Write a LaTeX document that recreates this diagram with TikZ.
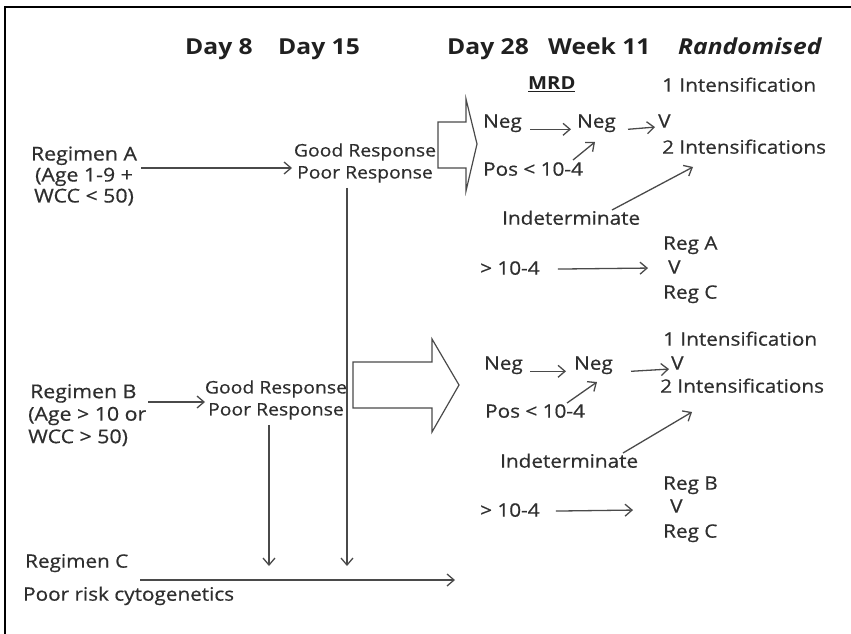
\documentclass[tikz,border=0pt]{standalone}
\usepackage{fontspec}
\setmainfont{Open Sans}[FakeStretch=1.12, UprightFeatures={FakeBold=0.6}]
\usetikzlibrary{arrows.meta}
\definecolor{txt}{HTML}{2E2E2E}
\definecolor{hdc}{HTML}{202020}
\definecolor{lnc}{HTML}{4A4A4A}
\begin{document}
\begin{tikzpicture}[x=1pt,y=-1pt,
  lbl/.style={font=\fontsize{18.5}{21}\selectfont, text=txt, inner sep=0pt, anchor=mid west},
  resp/.style={font=\fontsize{17.3}{22}\selectfont, text=txt, inner sep=0pt, anchor=center, align=center},
  hd/.style={font=\fontsize{22}{26}\selectfont\bfseries, text=hdc, inner sep=0pt, anchor=mid west},
  arr/.style={draw=lnc, line width=1.3pt, -{Straight Barb[length=7pt,width=12pt,line width=1.3pt]}},
  blockarrow/.style={draw=lnc, line width=1.2pt, fill=white, line join=miter}]
\useasboundingbox (0,0) rectangle (851,634);
\draw[black, line width=1.3pt] (5,634) -- (5,7) -- (851,7);

% headings
\node[hd] (d8) at (185,52) {Day 8};
\node[hd] (d15) at (278,52) {Day 15};
\node[hd] (d28) at (447,52) {Day 28};
\node[hd] (w11) at (548,52) {Week 11};
\node[hd, font=\fontsize{22}{26}\selectfont\bfseries\itshape] (rnd) at (678,52) {Randomised};

% ===== upper part: Regimen A =====
\node[lbl, anchor=center, align=center, font=\fontsize{19}{21}\selectfont] (regA) at (84,176) {Regimen A\\(Age 1-9 +\\WCC < 50)};
\node[resp] (respA) at (365,163) {Good Response\\Poor Response};
\coordinate (aA) at (292,168);
\draw[arr] (regA.east |- aA) ++(4,0) -- (aA);
\draw[blockarrow] (438,122) -- (466,122) -- (466,99) -- (477,144) -- (466,191) -- (466,168) -- (438,168) -- cycle;

\node[font=\fontsize{18}{21}\selectfont\bfseries, text=hdc, inner sep=0pt, anchor=mid west] (mrdA) at (528,87) {\underline{MRD}};
\node[lbl] (oneA) at (662,89) {1 Intensification};
\node[lbl] (negA1) at (483,125) {Neg};
\node[lbl] (negA2) at (577,125) {Neg};
\node[lbl] (vA) at (658,125) {V};
\node[lbl] (twoA) at (662,151) {2 Intensifications};
\node[lbl] (posA) at (483,173) {Pos < 10-4};
\node[lbl] (indA) at (502,222) {Indeterminate};
\node[lbl] (gtA) at (480,272) {> 10-4};
\node[lbl] (regAa) at (663,247) {Reg A};
\node[lbl] (vAr) at (668,271) {V};
\node[lbl] (regCa) at (663,296) {Reg C};

\draw[arr] ([xshift=8pt,yshift=-6pt]negA1.east) -- ([xshift=-6pt,yshift=-6pt]negA2.west);
\draw[arr] ([xshift=12pt,yshift=-6pt]negA2.east) -- ([xshift=-3pt,yshift=-6pt]vA.west);
\draw[arr] (573,160) -- (595,142);
\draw[arr] (612,210) -- (693,167);
\draw[arr] ([xshift=18pt,yshift=-1pt]gtA.east) -- ([xshift=-20pt]vAr.west |- gtA.east);

% ===== lower part: Regimen B =====
\node[lbl, anchor=north west, align=left, font=\fontsize{19}{22.5}\selectfont] (regB) at (28,384) {\hspace*{2pt}Regimen B\\(Age > 10 or\\WCC > 50)};
\node[resp] (respB) at (276,400) {Good Response\\Poor Response};
\coordinate (aB) at (205,402);
\draw[arr] (148,402) -- (aB);
\draw[blockarrow] (353,362) -- (432,362) -- (432,339) -- (459,385) -- (432,432) -- (432,408) -- (353,408) -- cycle;

\node[lbl] (oneB) at (663,343) {1 Intensification};
\node[lbl] (negB1) at (484,367) {Neg};
\node[lbl] (negB2) at (574,367) {Neg};
\node[lbl] (vB) at (671,367) {V};
\node[lbl] (twoB) at (660,390) {2 Intensifications};
\node[lbl] (posB) at (485,415) {Pos < 10-4};
\node[lbl] (indB) at (500,465) {Indeterminate};
\node[lbl] (gtB) at (480,514) {> 10-4};
\node[lbl] (regBb) at (663,487) {Reg B};
\node[lbl] (vBr) at (670,510) {V};
\node[lbl] (regCb) at (663,535) {Reg C};

\draw[arr] ([xshift=7pt,yshift=-6pt]negB1.east) -- ([xshift=-8pt,yshift=-6pt]negB2.west);
\draw[arr] ([xshift=18pt,yshift=-6pt]negB2.east) -- ([xshift=-2pt,yshift=-6pt]vB.west);
\draw[arr] (567,403) -- (597,382);
\draw[arr] (623,453) -- (692,412);
\draw[arr] ([xshift=16pt,yshift=-1pt]gtB.east) -- ([xshift=-37pt]vBr.west |- gtB.east);

% ===== Regimen C =====
\node[lbl] (regC) at (25,565) {Regimen C};
\node[lbl] (prc) at (23,598) {Poor risk cytogenetics};
\coordinate (cEnd) at (455,580);
\draw[arr] (140,580) -- (cEnd);
\coordinate (dA) at (347,566);
\coordinate (dB) at (269,566);
\draw[arr] (dA |- respA.south) ++(0,5) -- (dA);
\draw[arr] (dB |- respB.south) ++(0,5) -- (dB);
\end{tikzpicture}
\end{document}
